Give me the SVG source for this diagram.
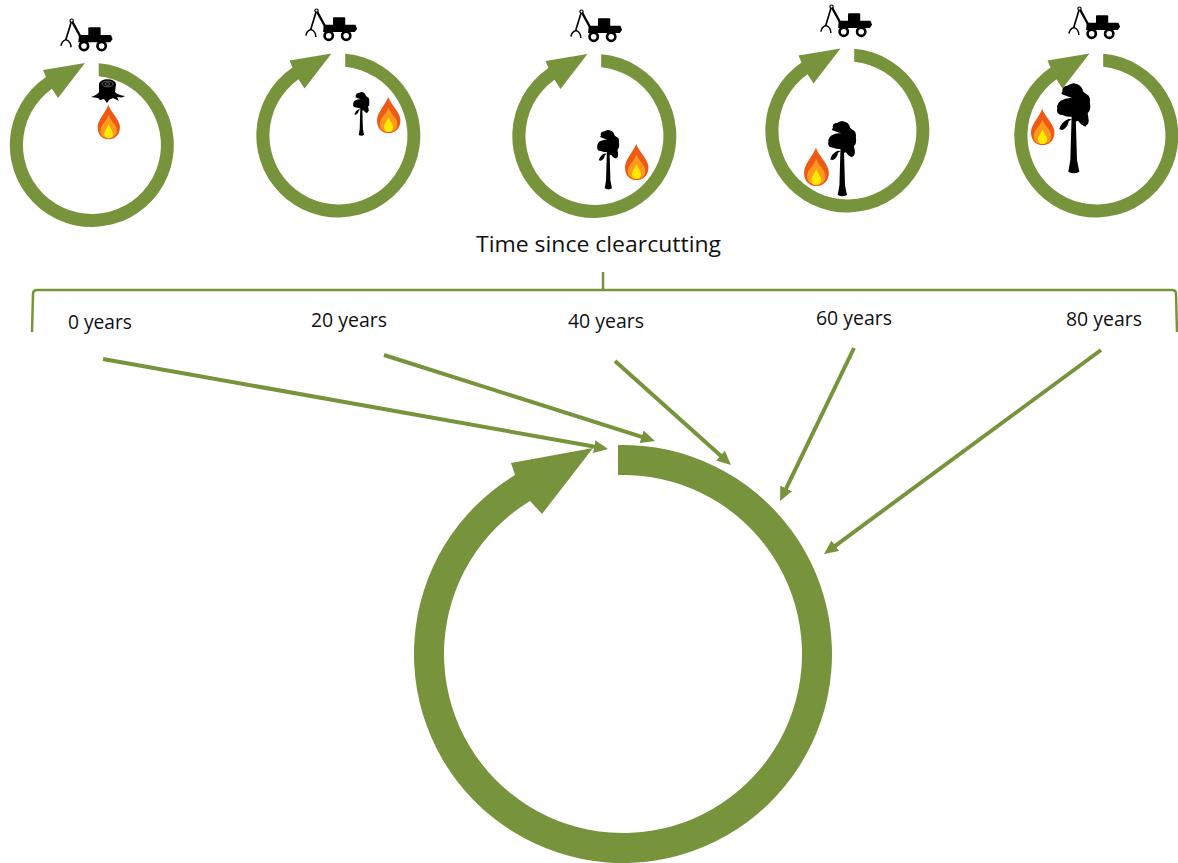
<svg xmlns="http://www.w3.org/2000/svg" xmlns:xlink="http://www.w3.org/1999/xlink" width="1178" height="863" viewBox="0 0 1178 863">
<style>
.g{fill:#77933c}
.ln{fill:none;stroke:#77933c;stroke-width:2.5}
.ar{fill:none;stroke:#77933c;stroke-width:4;marker-end:url(#ah)}
.k{fill:#000}
text{font-family:"Open Sans","Noto Sans","Liberation Sans",sans-serif;fill:#111}
.t1{font-size:20px}
.t2{font-size:22.5px}
</style>
<defs>
<marker id="ah" markerUnits="userSpaceOnUse" markerWidth="15" markerHeight="15" refX="1" refY="7" orient="auto"><path d="M0,0.5 L14,7 L0,13.5 Z" fill="#77933c"/></marker>
<path id="ring" class="g" d="M6.7,-81.7 A82,82 0 1 1 -46,-68 L-49,-75 L-7,-82 L-34,-47 L-40,-56.300 A69,69 0 1 0 6.700,-68.700 Z"/>
<g id="machine">
<path d="M50,17 L32,76" fill="none" stroke="#000" stroke-width="5"/>
<path d="M50,17 L78,68" fill="none" stroke="#000" stroke-width="7"/>
<circle cx="50" cy="17" r="5" fill="#fff" stroke="#000" stroke-width="3.500"/>
<path d="M18,93 Q20,78 33,74 Q48,80 48,97" fill="none" stroke="#000" stroke-width="4.500"/>
<rect class="k" x="100" y="37" width="37" height="29" rx="3"/>
<path class="k" d="M72,60 L168,60 L173,72 L166,82 L70,82 Z"/>
<circle cx="87" cy="93" r="12.500" fill="#fff" stroke="#000" stroke-width="8"/>
<circle cx="140" cy="93" r="12.500" fill="#fff" stroke="#000" stroke-width="8"/>
</g>
<g id="flame">
<path fill="#ef5815" d="M70,105 C80,130 105,150 105,172 C105,195 90,208 71,208 C52,208 38,195 38,172 C38,150 60,130 70,105Z"/>
<path fill="#fb9a1c" d="M71,135 C78,155 96,165 96,182 C96,197 85,205 71,205 C57,205 46,197 46,182 C46,165 64,155 71,135Z"/>
<path fill="#ffe900" d="M71,163 C76,175 84,182 84,192 C84,201 78,205 71,205 C64,205 58,201 58,192 C58,182 66,175 71,163Z"/>
</g>
<g id="tree">
<path class="k" d="M65,105 L77,105 L81,240 L88,275 Q72,285 55,275 L61,240 Z"/>
<path class="k" d="M34,42 Q45,15 70,10 Q95,12 100,35 Q118,45 120,70 Q124,90 113,100 Q120,125 106,140 Q92,135 84,122 L76,125 L66,110 Q40,112 25,95 Q15,75 32,62 Q50,52 68,55 Q50,48 34,42 Z"/>
<ellipse class="k" cx="52" cy="30" rx="15" ry="13"/>
<ellipse class="k" cx="106" cy="60" rx="14" ry="18"/>
<ellipse class="k" cx="36" cy="92" rx="15" ry="13"/>
<ellipse class="k" cx="104" cy="122" rx="12" ry="15"/>
<path class="k" d="M28,148 Q34,125 55,117 L66,118 L56,124 Q54,142 38,150 Z"/>
</g>
</defs>

<g id="connectors">
<path class="ln" d="M32,332 L33,294 Q33,290 37,290 L1172,290 Q1176,290 1176,294 L1177,332"/>
<path class="ln" d="M603,272 L603,290"/>
<path class="ar" d="M103,359 L595.2,446.7"/>
<path class="ar" d="M384,355 L642.6,437.1"/>
<path class="ar" d="M615,361 L721.3,456.3"/>
<path class="ar" d="M854,348 L785.7,489.3"/>
<path class="ar" d="M1101,350 L834.5,546.3"/>
</g>

<g id="cycle-0">
<use xlink:href="#ring" href="#ring" transform="translate(92,145)"/>
<use xlink:href="#machine" href="#machine" transform="translate(55,15) scale(.333)"/>
<g id="stump">
<path class="k" d="M99,84 L116,84 L115,92 Q118,95 125,96 L122,97.500 L117,97 L119,101 L113,98 L109,100 L107,103 L104,99 L100,100 L98,98 L91,97 Q97,95 99,92 Z"/>
<ellipse class="k" cx="107.500" cy="84" rx="8.500" ry="4.700"/>
<ellipse cx="107.500" cy="84" rx="5.500" ry="2.800" fill="none" stroke="#777" stroke-width=".8"/>
<ellipse cx="107.500" cy="84" rx="2.500" ry="1.300" fill="none" stroke="#777" stroke-width=".8"/>
</g>
<use xlink:href="#flame" href="#flame" transform="translate(85,70) scale(.333)"/>
</g>

<g id="cycle-20">
<use xlink:href="#ring" href="#ring" transform="translate(338.500,135.500)"/>
<use xlink:href="#machine" href="#machine" transform="translate(300,5) scale(.33)"/>
<use xlink:href="#tree" href="#tree" transform="translate(349.800,90.400) scale(.162)"/>
<use xlink:href="#flame" href="#flame" transform="translate(363.700,60.200) scale(.35)"/>
</g>

<g id="cycle-40">
<use xlink:href="#ring" href="#ring" transform="translate(594.500,136)"/>
<use xlink:href="#machine" href="#machine" transform="translate(565,6) scale(.33)"/>
<use xlink:href="#tree" href="#tree" transform="translate(592.600,127.800) scale(.22)"/>
<use xlink:href="#flame" href="#flame" transform="translate(611.700,107.200) scale(.35)"/>
</g>

<g id="cycle-60">
<use xlink:href="#ring" href="#ring" transform="translate(847.500,130.500)"/>
<use xlink:href="#machine" href="#machine" transform="translate(815,1) scale(.33)"/>
<use xlink:href="#tree" href="#tree" transform="translate(822.400,118.200) scale(.279)"/>
<use xlink:href="#flame" href="#flame" transform="translate(790,109) scale(.37)"/>
</g>

<g id="cycle-80">
<use xlink:href="#ring" href="#ring" transform="translate(1096.500,135.500)"/>
<use xlink:href="#machine" href="#machine" transform="translate(1063,3) scale(.33)"/>
<use xlink:href="#tree" href="#tree" transform="translate(1050,80) scale(.3333)"/>
<use xlink:href="#flame" href="#flame" transform="translate(1017.700,72.200) scale(.35)"/>
</g>

<g id="large-cycle">
<path class="g" d="M618,445.060 A209,209 0 1 1 515.100,475 L511,463 L593,448 L542,514 L530.100,501 A179,179 0 1 0 618,475.070 Z"/>
</g>

<g id="labels">
<text class="t2" x="476" y="252" textLength="245" lengthAdjust="spacingAndGlyphs">Time since clearcutting</text>
<text class="t1" x="68" y="329" textLength="64" lengthAdjust="spacingAndGlyphs">0 years</text>
<text class="t1" x="311" y="327" textLength="76" lengthAdjust="spacingAndGlyphs">20 years</text>
<text class="t1" x="568" y="328" textLength="76" lengthAdjust="spacingAndGlyphs">40 years</text>
<text class="t1" x="816" y="325" textLength="76" lengthAdjust="spacingAndGlyphs">60 years</text>
<text class="t1" x="1066" y="326" textLength="76" lengthAdjust="spacingAndGlyphs">80 years</text>
</g>
</svg>
